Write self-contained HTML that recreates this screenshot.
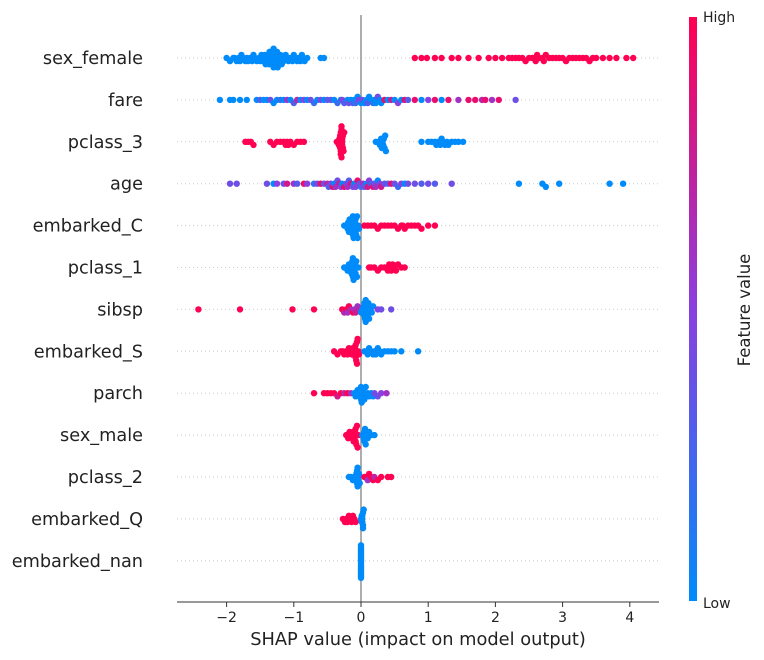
<!DOCTYPE html>
<html><head><meta charset="utf-8">
<style>
html,body{margin:0;padding:0;background:#fff;}
svg{display:block;font-family:"DejaVu Sans","Liberation Sans",sans-serif;}
</style></head>
<body>
<svg id="chart" width="764" height="660" viewBox="0 0 764 660" xmlns="http://www.w3.org/2000/svg">
<defs>
<linearGradient id="cbg" x1="0" y1="1" x2="0" y2="0">
<stop offset="0" stop-color="#008bfb"/>
<stop offset="0.5" stop-color="#8a3fe0"/>
<stop offset="1" stop-color="#ff0052"/>
</linearGradient>
</defs>
<g id="grid"></g>
<line x1="361" y1="15" x2="361" y2="602" stroke="#999" stroke-width="1.6"/>
<g id="dots"></g>
<g id="labels"></g>
<line x1="177" y1="602" x2="659" y2="602" stroke="#333" stroke-width="1"/>
<g id="xticks"></g>
<text x="418" y="645" font-size="17.8" text-anchor="middle" fill="#222">SHAP value (impact on model output)</text>
<rect x="689" y="17" width="8" height="584" fill="url(#cbg)"/>
<text x="703" y="22" font-size="14" fill="#222">High</text>
<text x="703" y="608" font-size="14" fill="#222">Low</text>
<text x="750" y="310" font-size="16.5" text-anchor="middle" fill="#222" transform="rotate(-90 750 310)">Feature value</text>
</svg>
<script>
const features = ["sex_female","fare","pclass_3","age","embarked_C","pclass_1","sibsp","embarked_S","parch","sex_male","pclass_2","embarked_Q","embarked_nan"];
const xTicks = [-2,-1,0,1,2,3,4];
const sex_female = [[-2.0,0],[-1.95,0],[-1.9,0],[-1.88,0],[-1.85,0],[-1.82,0],[-1.8,0],[-1.78,0],[-1.75,0],[-1.72,0],[-1.7,0],[-1.68,0],[-1.65,0],[-1.62,0],[-1.6,0],[-1.58,0],[-1.55,0],[-1.52,0],[-1.5,0],[-1.48,0],[-1.46,0],[-1.45,0],[-1.43,0],[-1.42,0],[-1.4,0],[-1.39,0],[-1.38,0],[-1.37,0],[-1.36,0],[-1.35,0],[-1.34,0],[-1.33,0],[-1.32,0],[-1.31,0],[-1.3,0],[-1.3,0],[-1.29,0],[-1.28,0],[-1.27,0],[-1.26,0],[-1.25,0],[-1.24,0],[-1.23,0],[-1.22,0],[-1.2,0],[-1.18,0],[-1.16,0],[-1.15,0],[-1.12,0],[-1.1,0],[-1.08,0],[-1.05,0],[-1.02,0],[-1.0,0],[-0.98,0],[-0.95,0],[-0.93,0],[-0.9,0],[-0.88,0],[-0.86,0],[-0.84,0],[-0.8,0],[-0.6,0],[-0.55,0],[0.8,1],[0.9,1],[0.98,1],[1.1,1],[1.2,1],[1.35,1],[1.45,1],[1.6,1],[1.75,1],[1.9,1],[2.0,1],[2.1,1],[2.2,1],[2.25,1],[2.3,1],[2.35,1],[2.4,1],[2.45,1],[2.5,1],[2.55,1],[2.58,1],[2.6,1],[2.62,1],[2.65,1],[2.7,1],[2.72,1],[2.75,1],[2.8,1],[2.85,1],[2.9,1],[2.95,1],[3.0,1],[3.05,1],[3.1,1],[3.15,1],[3.2,1],[3.25,1],[3.3,1],[3.35,1],[3.4,1],[3.45,1],[3.5,1],[3.6,1],[3.7,1],[3.8,1],[3.95,1],[4.05,1]];
const fare = [[-2.1,0],[-1.95,0],[-1.9,0],[-1.8,0],[-1.7,0],[-1.55,0],[-1.5,0.3],[-1.45,0],[-1.4,0],[-1.35,0.4],[-1.3,0],[-1.25,0],[-1.2,0.2],[-1.15,0],[-1.1,0.6],[-1.05,0],[-1.0,0.3],[-0.95,0.7],[-0.9,0],[-0.85,0.5],[-0.8,0],[-0.75,0.4],[-0.7,0.2],[-0.65,0],[-0.6,0.5],[-0.55,0],[-0.5,0.3],[-0.45,0.4],[-0.4,0],[-0.35,0.2],[-0.3,0],[-0.28,0.5],[-0.25,0.3],[-0.2,0],[-0.18,0.4],[-0.15,0],[-0.12,0.3],[-0.1,0],[-0.08,0.2],[-0.05,0],[-0.03,0.5],[0.0,0],[0.02,0.4],[0.05,0],[0.08,0],[0.1,0.3],[0.12,0],[0.15,0],[0.18,0.2],[0.2,0],[0.22,0],[0.25,0.4],[0.28,0],[0.3,0],[0.35,0.9],[0.4,0],[0.45,0.8],[0.5,0],[0.55,0.5],[0.6,0],[0.65,0.9],[0.7,0.3],[0.8,0.9],[0.9,0],[1.0,0.5],[1.1,0.9],[1.2,0],[1.3,0.9],[1.45,0.6],[1.6,0.9],[1.7,0.9],[1.8,0.7],[1.85,0.9],[1.95,0.6],[2.05,0.9],[2.3,0.4]];
const pclass_3 = [[-1.72,1],[-1.68,1],[-1.64,1],[-1.6,1],[-1.35,1],[-1.3,1],[-1.25,1],[-1.2,1],[-1.15,1],[-1.12,1],[-1.1,1],[-1.08,1],[-1.05,1],[-1.0,1],[-0.95,1],[-0.9,1],[-0.85,1],[-0.36,1],[-0.34,1],[-0.33,1],[-0.32,1],[-0.31,1],[-0.3,1],[-0.3,1],[-0.29,1],[-0.29,1],[-0.28,1],[-0.28,1],[-0.27,1],[-0.27,1],[-0.26,1],[-0.25,1],[-0.3,1],[-0.31,1],[-0.29,1],[-0.28,1],[0.22,0],[0.26,0],[0.28,0],[0.3,0],[0.31,0],[0.32,0],[0.33,0],[0.34,0],[0.35,0],[0.36,0],[0.37,0],[0.9,0],[1.0,0],[1.05,0],[1.1,0],[1.12,0],[1.15,0],[1.18,0],[1.2,0],[1.22,0],[1.25,0],[1.28,0],[1.3,0],[1.35,0],[1.4,0],[1.45,0],[1.52,0]];
const age = [[-1.95,0.4],[-1.85,0.4],[-1.4,0.4],[-1.3,0],[-1.25,0.5],[-1.15,0.4],[-1.1,0.8],[-1.0,0.6],[-0.95,0.3],[-0.85,0.9],[-0.8,0.5],[-0.7,0.2],[-0.65,0.4],[-0.6,0.9],[-0.55,0.4],[-0.5,0.7],[-0.48,0.3],[-0.45,0.5],[-0.42,0.9],[-0.4,0],[-0.38,0.6],[-0.35,0.4],[-0.32,0.8],[-0.3,0.5],[-0.28,0],[-0.25,0.9],[-0.22,0.4],[-0.2,0.6],[-0.18,0.3],[-0.15,0.8],[-0.12,0.4],[-0.1,0],[-0.08,0.5],[-0.05,0.9],[-0.02,0.4],[0.0,0.2],[0.03,0.6],[0.05,0.4],[0.08,0],[0.1,0.8],[0.12,0.5],[0.15,0.3],[0.18,0.9],[0.2,0.4],[0.22,0.6],[0.25,0],[0.28,0.5],[0.3,0.8],[0.35,0.4],[0.4,0.3],[0.45,0.9],[0.5,0.4],[0.55,0.2],[0.6,0.5],[0.65,0],[0.7,0.4],[0.8,0.4],[0.9,0.3],[1.0,0.4],[1.1,0.3],[1.35,0.4],[2.35,0],[2.7,0],[2.75,0],[2.95,0],[3.7,0],[3.9,0]];
const embarked_C = [[-0.25,0],[-0.22,0],[-0.2,0],[-0.19,0],[-0.18,0],[-0.17,0],[-0.16,0],[-0.15,0],[-0.14,0],[-0.13,0],[-0.12,0],[-0.11,0],[-0.1,0],[-0.09,0],[-0.08,0],[-0.07,0],[-0.06,0],[-0.05,0],[-0.04,0],[-0.03,0],[-0.1,0],[-0.12,0],[-0.14,0],[-0.08,0],[0.05,1],[0.1,1],[0.15,1],[0.2,1],[0.25,1],[0.3,1],[0.35,1],[0.4,1],[0.45,1],[0.5,1],[0.55,1],[0.6,1],[0.62,1],[0.65,1],[0.7,1],[0.75,1],[0.8,1],[0.85,1],[0.9,1],[1.0,1],[1.1,1]];
const pclass_1 = [[-0.25,0],[-0.22,0],[-0.2,0],[-0.18,0],[-0.16,0],[-0.15,0],[-0.14,0],[-0.13,0],[-0.12,0],[-0.11,0],[-0.1,0],[-0.09,0],[-0.08,0],[-0.07,0],[-0.06,0],[-0.04,0],[-0.12,0],[-0.1,0],[-0.14,0],[0.12,1],[0.15,1],[0.2,1],[0.25,1],[0.3,1],[0.35,1],[0.4,1],[0.42,1],[0.45,1],[0.47,1],[0.5,1],[0.52,1],[0.55,1],[0.6,1],[0.65,1],[0.45,1],[0.4,1]];
const sibsp = [[-2.42,1],[-1.8,1],[-1.02,1],[-0.7,1],[-0.28,1],[-0.25,0.7],[-0.22,1],[-0.2,0.6],[-0.18,1],[-0.15,0.7],[-0.12,1],[-0.1,0.6],[-0.08,0.8],[-0.05,0.6],[-0.03,0.7],[0.0,0],[0.02,0],[0.03,0],[0.04,0],[0.05,0],[0.06,0],[0.07,0],[0.08,0],[0.09,0],[0.1,0],[0.11,0],[0.12,0],[0.14,0],[0.16,0],[0.18,0],[0.05,0],[0.07,0],[0.09,0],[0.25,0.5],[0.3,0.4],[0.45,0.4]];
const embarked_S = [[-0.4,1],[-0.35,1],[-0.3,1],[-0.27,1],[-0.25,1],[-0.22,1],[-0.2,1],[-0.18,1],[-0.16,1],[-0.14,1],[-0.12,1],[-0.1,1],[-0.09,1],[-0.08,1],[-0.07,1],[-0.06,1],[-0.05,1],[-0.04,1],[-0.03,1],[-0.1,1],[-0.08,1],[-0.06,1],[0.05,0],[0.08,0],[0.1,0],[0.12,0],[0.15,0],[0.18,0],[0.2,0],[0.22,0],[0.25,0],[0.28,0],[0.3,0],[0.35,0],[0.4,0],[0.45,0],[0.5,0],[0.6,0],[0.85,0]];
const parch = [[-0.7,1],[-0.55,1],[-0.5,1],[-0.45,1],[-0.4,1],[-0.35,0.8],[-0.3,1],[-0.25,0.7],[-0.2,1],[-0.15,0.6],[-0.1,0],[-0.08,0],[-0.05,0],[-0.03,0],[-0.02,0],[0.0,0],[0.01,0],[0.02,0],[0.03,0],[0.05,0],[0.07,0],[0.1,0],[0.12,0],[0.15,0],[0.18,0],[0.2,0.4],[0.25,0.4],[0.3,0.5],[0.38,0.6],[0.0,0],[0.03,0],[-0.02,0]];
const sex_male = [[-0.22,1],[-0.19,1],[-0.17,1],[-0.15,1],[-0.13,1],[-0.12,1],[-0.11,1],[-0.1,1],[-0.09,1],[-0.08,1],[-0.07,1],[-0.06,1],[-0.05,1],[-0.04,1],[-0.1,1],[-0.08,1],[0.02,0],[0.04,0],[0.05,0],[0.06,0],[0.08,0],[0.1,0],[0.12,0],[0.15,0],[0.2,0],[0.05,0],[0.07,0]];
const pclass_2 = [[-0.18,0],[-0.15,0],[-0.12,0],[-0.1,0],[-0.08,0],[-0.07,0],[-0.06,0],[-0.05,0],[-0.04,0],[-0.03,0],[-0.02,0],[-0.05,0],[-0.04,0],[-0.06,0],[0.05,1],[0.08,1],[0.1,0.6],[0.12,1],[0.15,1],[0.18,1],[0.2,0.7],[0.25,1],[0.3,1],[0.4,1],[0.45,1]];
const embarked_Q = [[-0.27,1],[-0.24,1],[-0.22,1],[-0.2,1],[-0.18,1],[-0.16,1],[-0.14,1],[-0.12,1],[-0.1,1],[-0.08,1],[0.0,0],[0.01,0],[0.02,0],[0.02,0],[0.03,0],[0.03,0],[0.03,0],[0.04,0],[0.02,0],[0.01,0]];
const embarked_nan = [[0.0,0],[0.0,0],[0.0,0],[0.0,0],[0.0,0],[0.0,0],[0.0,0],[0.0,0],[0.0,0],[0.0,0],[0.0,0],[0.0,0],[0.0,0],[0.0,0],[0.0,0],[0.0,0],[0.0,0],[0.0,0],[0.0,0],[0.0,0],[0.0,0],[0.0,0]];
const rowData = [sex_female,fare,pclass_3,age,embarked_C,pclass_1,sibsp,embarked_S,parch,sex_male,pclass_2,embarked_Q,embarked_nan];

const NS = "http://www.w3.org/2000/svg";
const x0 = 361, pxPerUnit = 67.2, rowTop = 58, rowStep = 41.9;
function xScale(v){ return x0 + v*pxPerUnit; }
function yRow(i){ return rowTop + i*rowStep; }
function lerp(a,b,t){ return Math.round(a+(b-a)*t); }
function color(f){
  const s0=[0,139,251], s1=[138,63,224], s2=[255,0,82];
  let a,b,t;
  if(f<0.5){a=s0;b=s1;t=f/0.5;} else {a=s1;b=s2;t=(f-0.5)/0.5;}
  return "rgb("+lerp(a[0],b[0],t)+","+lerp(a[1],b[1],t)+","+lerp(a[2],b[2],t)+")";
}
const grid = document.getElementById("grid");
const labels = document.getElementById("labels");
const dots = document.getElementById("dots");
features.forEach(function(name,i){
  const y = yRow(i);
  const gl = document.createElementNS(NS,"line");
  
  
  gl.setAttribute("x1",177); gl.setAttribute("x2",659);
  gl.setAttribute("y1",y); gl.setAttribute("y2",y);
  gl.setAttribute("stroke","#ccc"); gl.setAttribute("stroke-dasharray","1,3");
  grid.appendChild(gl);
  const t = document.createElementNS(NS,"text");
  
  
  t.setAttribute("x",143); t.setAttribute("y",y+6);
  t.setAttribute("text-anchor","end"); t.setAttribute("font-size","17.7"); t.setAttribute("fill","#222");
  t.textContent = name;
  labels.appendChild(t);
  const pts = rowData[i].map(function(p){ return {x:xScale(p[0]), c:p[1]}; }).sort(function(a,b){return a.x-b.x;});
  const bins = {};
  pts.forEach(function(p){ const k=Math.round(p.x/4); (bins[k]=bins[k]||[]).push(p); });
  let maxN = 1;
  Object.keys(bins).forEach(function(k){ maxN=Math.max(maxN,bins[k].length); });
  const step = Math.min(3.1, 34/maxN);
  Object.keys(bins).forEach(function(k){
    bins[k].forEach(function(p,j){
      const off = Math.ceil(j/2)*step*(j%2?1:-1);
      const c = document.createElementNS(NS,"circle");
      
      
      c.setAttribute("cx",p.x.toFixed(1)); c.setAttribute("cy",(y+off).toFixed(1));
      c.setAttribute("r",3.2); c.setAttribute("fill",color(p.c));
      dots.appendChild(c);
    });
  });
});
const xt = document.getElementById("xticks");
xTicks.forEach(function(v){
  const x = xScale(v);
  const l = document.createElementNS(NS,"line");
  
  
  l.setAttribute("x1",x); l.setAttribute("x2",x); l.setAttribute("y1",602); l.setAttribute("y2",607);
  l.setAttribute("stroke","#333");
  xt.appendChild(l);
  const t = document.createElementNS(NS,"text");
  
  
  t.setAttribute("x",x); t.setAttribute("y",622); t.setAttribute("text-anchor","middle");
  t.setAttribute("font-size","14"); t.setAttribute("fill","#222");
  t.textContent = v<0 ? "\u2212"+Math.abs(v) : String(v);
  xt.appendChild(t);
});
</script>
</body></html>
